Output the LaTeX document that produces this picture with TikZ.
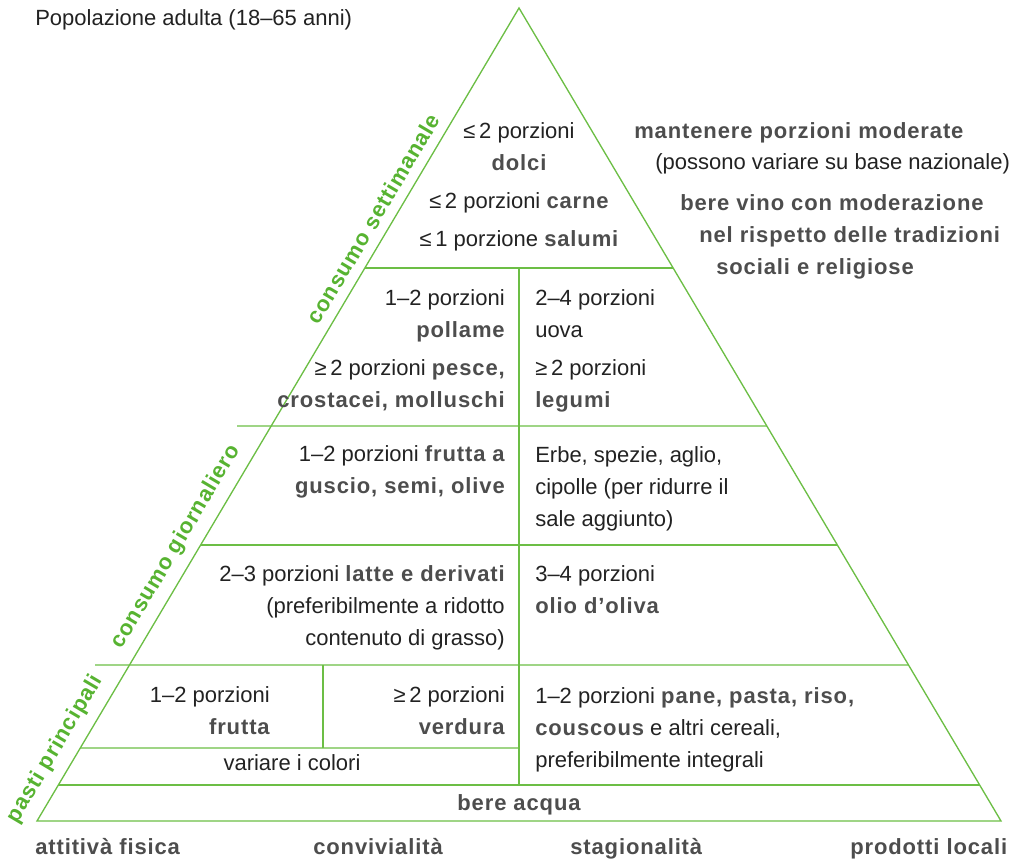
\documentclass[tikz,border=0pt]{standalone}
\usepackage{fontspec}
\setmainfont{Liberation Sans}[BoldFeatures={LetterSpace=4}]
\usepackage{tikz}
\usetikzlibrary{calc}
\definecolor{PyrGreen}{HTML}{6CBE45}
\definecolor{PyrLabel}{HTML}{57B331}
\definecolor{PyrInk}{HTML}{222222}
\definecolor{PyrGrey}{HTML}{4D4D4D}
\newcommand{\hb}[1]{\textbf{\color{PyrGrey}#1}}

\begin{document}
\begin{tikzpicture}[
  x=0.75pt, y=-0.75pt,
  band/.style={draw=PyrGreen, line width=1pt},
  txt/.style={font=\fontsize{16.5}{24}\selectfont, text=PyrInk, inner sep=0pt},
  cellL/.style={txt, anchor=base east, align=right},
  cellR/.style={txt, anchor=base west, align=left},
  note/.style={txt, anchor=base west, font=\fontsize{16.5}{20}\selectfont\bfseries, text=PyrGrey},
  side/.style={font=\fontsize{16.5}{20}\selectfont\bfseries, text=PyrLabel, anchor=south, rotate=59.36, inner sep=2pt}
]
\useasboundingbox (0,0) rectangle (1021,861);

\coordinate (apex) at (519,8);
\coordinate (baseL) at (37,821);
\coordinate (baseR) at (1001,821);

% pyramid and its bands
\draw[band] (apex) -- (baseR) -- (baseL) -- cycle;
\foreach \t in {0.3198,0.6605,0.9557}
  \draw[band] ($(apex)!\t!(baseL)$) -- ($(apex)!\t!(baseR)$);
\draw[band] (237,426) -- ($(apex)!0.5141!(baseR)$);
\draw[band] (95,665) -- ($(apex)!0.8081!(baseR)$);
\draw[band] ($(apex)!0.9102!(baseL)$) -- (519,748);
\draw[band] (519,268) -- (519,785);
\draw[band] (323,665) -- (323,748);

% side labels
\node[side] (weekly) at ($(apex)!0.266!(baseL)+(-8,0)$) {consumo settimanale};
\node[side] (daily) at ($(apex)!0.671!(baseL)+(-8,0)$) {consumo giornaliero};
\node[side] (meals) at ($(apex)!0.92!(baseL)+(-9,0)$) {pasti principali};

\node[txt, anchor=base west] (title) at (35,25) {Popolazione adulta (18–65 anni)};

% top
\node[txt, anchor=base, align=center] (sweets) at (519,170) {≤\,2 porzioni\\\hb{dolci}};
\node[txt, anchor=base] (meat) at (519,208) {≤\,2 porzioni \hb{carne}};
\node[txt, anchor=base] (coldcuts) at (519,246) {≤\,1 porzione \hb{salumi}};

\node[note] (moderate) at (634,138) {mantenere porzioni moderate};
\node[txt, anchor=base west] (national) at (655,169) {(possono variare su base nazionale)};
\node[note] (wine) at (680,210) {bere vino con moderazione};
\node[note] (tradition) at (699,242) {nel rispetto delle tradizioni};
\node[note] (religion) at (716,274) {sociali e religiose};

% second band
\node[cellL] (poultry) at (505,337) {1–2 porzioni\\\hb{pollame}};
\node[cellL] (fish) at (505,407) {≥\,2 porzioni \hb{pesce,}\\\hb{crostacei, molluschi}};
\node[cellR] (eggs) at (535,337) {2–4 porzioni\\uova};
\node[cellR] (legumes) at (535,407) {≥\,2 porzioni\\\hb{legumi}};

% third band
\node[cellL] (nuts) at (505,493) {1–2 porzioni \hb{frutta a}\\\hb{guscio, semi, olive}};
\node[cellR] (herbs) at (535,526) {Erbe, spezie, aglio,\\cipolle (per ridurre il\\sale aggiunto)};

% fourth band
\node[cellL] (dairy) at (505,645) {2–3 porzioni \hb{latte e derivati}\\(preferibilmente a ridotto\\contenuto di grasso)};
\node[cellR] (oil) at (535,613) {3–4 porzioni\\\hb{olio d’oliva}};

% main meals
\node[cellL] (fruit) at (270,734) {1–2 porzioni\\\hb{frutta}};
\node[cellL] (veg) at (505,734) {≥\,2 porzioni\\\hb{verdura}};
\node[txt, anchor=base] (colours) at (292,770) {variare i colori};
\node[cellR] (cereals) at (535,767) {1–2 porzioni \hb{pane, pasta, riso,}\\\hb{couscous} e altri cereali,\\preferibilmente integrali};
\node[txt, anchor=base] (water) at (519,810) {\hb{bere acqua}};

% bottom line
\node[note] (activity) at (35,854) {attitivà fisica};
\node[note] (convivial) at (313,854) {convivialità};
\node[note] (season) at (570,854) {stagionalità};
\node[note] (local) at (850,854) {prodotti locali};
\end{tikzpicture}
\end{document}
